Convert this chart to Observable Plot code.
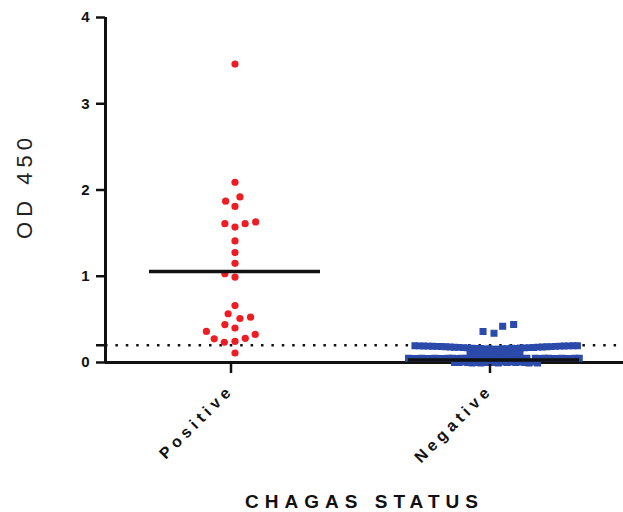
<!DOCTYPE html>
<html><head><meta charset="utf-8">
<script src="https://cdn.jsdelivr.net/npm/d3@7"></script>
<script src="https://cdn.jsdelivr.net/npm/@observablehq/plot@0.6"></script>
<style>
body{margin:0;background:#fff;}
#chart svg{display:block}
g[aria-label="fx-axis tick label"] text{letter-spacing:4.5px}
g[aria-label="fx-axis label"] text{letter-spacing:6px;font-size:19px;font-weight:bold}
g[aria-label="text"] text{letter-spacing:5px}
</style></head><body><div id="chart"></div>
<script>
const groups = ["Positive", "Negative"];
const positiveOD = [3.46, 2.09, 1.81, 1.87, 1.92, 1.57, 1.61, 1.61, 1.63, 1.41, 1.275, 1.15, 0.99, 1.03,
  0.66, 0.40, 0.44, 0.51, 0.565, 0.525, 0.245, 0.235, 0.28, 0.275, 0.325, 0.36, 0.11];
const negativeOD = [
  0.0, 0.0, -0.005, 0.005, 0.0, 0.0, -0.005, 0.005, 0.0, 0.0, -0.005, 0.005, 0.0, 0.0, 0.005, -0.005, 0.0, 0.005, 0.0, -0.005,
  0.055, 0.055, 0.05, 0.055, 0.05, 0.05, 0.055, 0.05, 0.05, 0.055, 0.05, 0.05, 0.048, 0.05, 0.05, 0.048, 0.05, 0.05, 0.048,
  0.05, 0.05, 0.048, 0.05, 0.046, 0.048, 0.05, 0.046, 0.048, 0.05, 0.046, 0.048, 0.05, 0.046, 0.048, 0.05, 0.046, 0.05, 0.05,
  0.10, 0.10, 0.11, 0.10, 0.11, 0.10, 0.11, 0.10, 0.11, 0.10, 0.11, 0.10,
  0.155, 0.155, 0.158, 0.157, 0.16, 0.16, 0.162, 0.163, 0.165, 0.164, 0.167, 0.168, 0.17, 0.17, 0.172, 0.173, 0.175, 0.174,
  0.177, 0.178, 0.18, 0.18, 0.182, 0.183, 0.185, 0.184, 0.187, 0.187, 0.189, 0.19, 0.19, 0.191, 0.192, 0.193, 0.193, 0.194,
  0.195, 0.195,
  0.34, 0.36, 0.42, 0.44];
const groupMeans = [1.055, 0.03];
const yTicks = [0, 1, 2, 3, 4];
const cutoff = 0.2;
const yLabel = "OD 450";
const xLabel = "CHAGAS STATUS";

const posRows = positiveOD.map(v => ({group: groups[0], value: v}));
const negRows = negativeOD.map(v => ({group: groups[1], value: v}));
const negDense = negRows.filter(d => d.value <= cutoff);
const negSparse = negRows.filter(d => d.value > cutoff);
const meanRows = groups.map((g, i) => ({group: g, mean: groupMeans[i]}));

const red = "#ee1d23";
const blue = "#2b4aa9";
const ink = "#111";

const chart = Plot.plot({
  width: 623, height: 512,
  marginLeft: 104, marginRight: 0, marginTop: 17, marginBottom: 150,
  style: {fontFamily: "'Liberation Sans', Arial, sans-serif", color: ink, background: "#fff"},
  fx: {domain: groups, padding: 0, label: xLabel},
  x: {domain: [0, 1], axis: null},
  y: {domain: [0, 4], label: yLabel},
  marks: [
    Plot.ruleY([cutoff], {stroke: ink, strokeWidth: 2.5, strokeDasharray: "2.5,7.9"}),
    Plot.ruleY([0], {stroke: ink, strokeWidth: 3}),
    Plot.ruleX([groups[0]], {fx: d => d, x: 0, y1: 0, y2: 4, stroke: ink, strokeWidth: 3}),
    Plot.dot(posRows, Plot.dodgeX({anchor: "middle", padding: 3.5, r: 3.6},
      {fx: "group", y: "value", r: 3.6, fill: red})),
    Plot.dot(negDense, Plot.dodgeX({anchor: "middle", padding: 0, r: 2.2},
      {fx: "group", y: "value", r: 2.2, symbol: "square", fill: blue, stroke: blue, strokeWidth: 3})),
    Plot.dot(negSparse, Plot.dodgeX({anchor: "middle", padding: 4.5, r: 3.3},
      {fx: "group", y: "value", r: 3.3, symbol: "square", fill: blue, stroke: blue, strokeWidth: 1.2})),
    Plot.ruleY(meanRows, {fx: "group", y: "mean", insetLeft: 44, insetRight: 44, stroke: ink, strokeWidth: 3.5}),
    Plot.axisY(yTicks, {tickSize: 9, tickPadding: 7, fontSize: 15, fontWeight: "bold", strokeWidth: 2.5,
      tickFormat: d3.format("d"), label: null}),
    Plot.axisY([cutoff], {tickSize: 9, tickFormat: () => "", strokeWidth: 2.5, label: null}),
    Plot.text([yLabel], {fx: () => groups[0], frameAnchor: "left", textAnchor: "middle", rotate: -90, dx: -81, dy: -4,
      fontSize: 22, fill: "#222"}),
    Plot.axisFx({anchor: "bottom", tickSize: 9, tickPadding: 14, tickRotate: -45, fontSize: 16, fontWeight: "bold",
      dx: -4, dy: 2, strokeWidth: 2.5, label: xLabel, labelAnchor: "center", labelOffset: 145})
  ]
});
document.getElementById("chart").appendChild(chart);
</script></body></html>
